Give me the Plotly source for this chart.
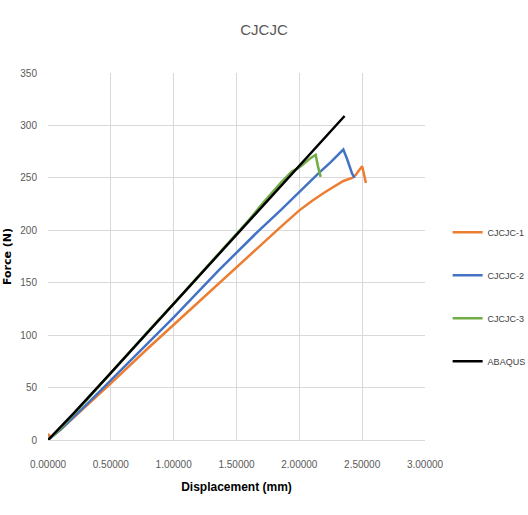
import plotly.graph_objects as go

# CJCJC-1 (orange)
x1 = [0, 0.02, 0.1, 0.3, 0.5, 0.8, 1.0, 1.3, 1.6, 1.85, 2.0, 2.1, 2.2, 2.3, 2.35, 2.42, 2.45, 2.48, 2.50, 2.53]
f1 = [6, 2, 10, 32, 54, 88, 110, 143, 176, 203, 219, 228, 236, 243, 247, 250, 253, 258, 261, 245]
# CJCJC-2 (blue)
x2 = [0, 0.1, 0.3, 0.5, 0.8, 1.0, 1.36, 1.68, 1.85, 2.02, 2.15, 2.25, 2.35, 2.38, 2.40, 2.42, 2.44]
f2 = [0, 10, 33, 57, 93, 117, 162, 200, 219, 239, 254, 265, 277, 268, 261, 254, 250]
# CJCJC-3 (green)
x3 = [0, 0.1, 0.3, 0.5, 0.8, 1.0, 1.3, 1.6, 1.71, 1.85, 1.94, 2.0, 2.08, 2.13, 2.15, 2.17]
f3 = [0, 11, 37, 64, 104, 130, 170, 210, 226, 245, 256, 260, 268, 272, 260, 251]
# ABAQUS (black)
x4 = [0, 0.2, 0.5, 1.0, 1.5, 2.0, 2.36]
f4 = [0, 25, 64, 130, 196, 262, 309]

names = ["CJCJC-1", "CJCJC-2", "CJCJC-3", "ABAQUS"]
colors = ["#ED7D31", "#4472C4", "#70AD47", "#000000"]
xs = [x1, x2, x3, x4]
fs = [f1, f2, f3, f4]

FONT = "Liberation Sans Narrow, Arial Narrow, Liberation Sans, Arial, sans-serif"

fig = go.Figure()
for i in range(4):
    fig.add_trace(go.Scatter(x=xs[i], y=fs[i], mode="lines", name=names[i],
                             legendgroup=names[i],
                             line=dict(color=colors[i], width=2.5)))

fig.update_layout(
    width=528, height=515,
    margin=dict(l=48, r=103, t=73, b=75, autoexpand=False),
    paper_bgcolor="white", plot_bgcolor="white",
    title=dict(text="CJCJC", x=0.5, xanchor="center", y=0.942, yanchor="middle",
               font=dict(family=FONT, size=15, color="#595959")),
    font=dict(family=FONT, size=10, color="#595959"),
    legend=dict(x=1.06, xanchor="left", y=0.39, yanchor="middle",
                tracegroupgap=24, traceorder="grouped",
                font=dict(size=9, color="#404040"), itemwidth=30),
    showlegend=True,
)
fig.update_xaxes(range=[0, 3.0], dtick=0.5, tickformat=".5f",
                 showgrid=True, gridcolor="#D9D9D9", gridwidth=1,
                 zeroline=False, showline=True, linecolor="#D9D9D9",
                 ticks="outside", ticklen=15, tickcolor="rgba(0,0,0,0)",
                 tickfont=dict(size=10, color="#595959"),
                 title=dict(text="<b>Displacement (mm)</b>", standoff=13,
                            font=dict(size=12, color="#000000")))
fig.update_yaxes(range=[0, 350], dtick=50,
                 showgrid=True, gridcolor="#D9D9D9", gridwidth=1,
                 zeroline=False, showline=False,
                 ticks="outside", ticklen=8, tickcolor="rgba(0,0,0,0)",
                 tickfont=dict(size=10, color="#595959"),
                 title=dict(text="<b>Force (N)</b>", standoff=6,
                            font=dict(family="DejaVu Sans, sans-serif", size=11, color="#000000")))

fig.write_html("out.html")
